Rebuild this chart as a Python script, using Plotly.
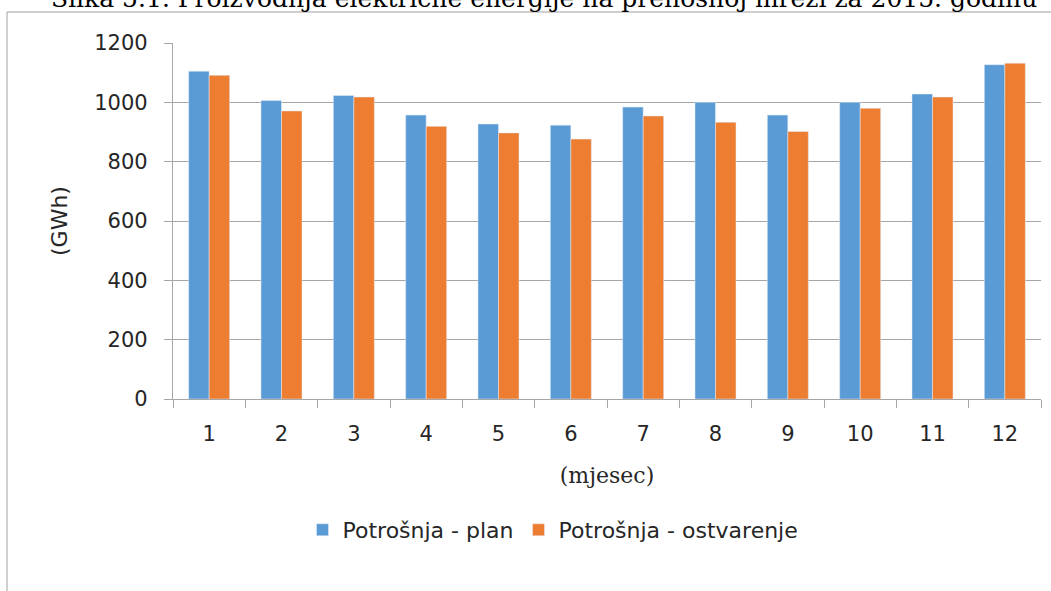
import plotly.graph_objects as go

months = ["1", "2", "3", "4", "5", "6", "7", "8", "9", "10", "11", "12"]
plan = [1105, 1006, 1023, 957, 927, 923, 984, 1000, 957, 1000, 1028, 1127]
ostvarenje = [1091, 971, 1018, 919, 897, 876, 954, 933, 902, 980, 1018, 1132]
series_names = ["Potrošnja - plan", "Potrošnja - ostvarenje"]
y_ticks = [0, 200, 400, 600, 800, 1000, 1200]
caption = "Slika 5.1. Proizvodnja električne energije na prenosnoj mreži za 2015. godinu"

W, H = 1051, 591
L, R, T, B = 173, 10, 43, 192
pw, ph = W - L - R, H - T - B

def px_x(x):
    return (x - L) / pw

def px_y(y):
    return (H - B - y) / ph

fig = go.Figure()
fig.add_trace(go.Bar(x=months, y=plan, name=series_names[0], marker_color="#5b9bd5"))
fig.add_trace(go.Bar(x=months, y=ostvarenje, name=series_names[1], marker_color="#ed7d31"))

txt = "#262626"
grid = "#a6a6a6"
fig.update_layout(
    width=W, height=H,
    margin=dict(l=L, r=R, t=T, b=B, pad=0),
    paper_bgcolor="white", plot_bgcolor="white",
    barmode="group", bargap=0.433, bargroupgap=0,
    font=dict(family="DejaVu Sans", size=21, color=txt),
    showlegend=True,
    legend=dict(orientation="h", x=px_x(553), xanchor="center", y=px_y(530), yanchor="middle",
                font=dict(family="DejaVu Sans", size=22, color=txt), itemwidth=30,
                bgcolor="rgba(0,0,0,0)"),
    xaxis=dict(type="category", showline=True, linecolor=grid, linewidth=1.3,
               ticks="outside", tickson="boundaries", ticklen=8, tickcolor=grid, tickwidth=1.3,
               showgrid=False, ticklabelstandoff=16,
               tickfont=dict(family="DejaVu Sans", size=21, color=txt),
               title=dict(text="(mjesec)", font=dict(family="DejaVu Serif", size=22, color=txt), standoff=22)),
    yaxis=dict(range=[0, 1200], tickvals=y_ticks, showline=True, linecolor=grid, linewidth=1.3,
               ticks="outside", ticklen=8, tickcolor=grid, tickwidth=1.3,
               showgrid=True, gridcolor=grid, gridwidth=1.3, zeroline=False,
               ticklabelstandoff=12,
               tickfont=dict(family="DejaVu Sans", size=21, color=txt),
               title=dict(text="(GWh)", font=dict(family="DejaVu Sans", size=22, color=txt), standoff=20)),
)

fig.add_annotation(text=caption, xref="paper", yref="paper", x=px_x(544), y=px_y(-2),
                   xanchor="center", yanchor="middle", showarrow=False,
                   font=dict(family="DejaVu Serif", size=25, color="black"))

fig.add_shape(type="line", xref="paper", yref="paper", x0=px_x(7), x1=px_x(7), y0=px_y(12), y1=px_y(600),
              line=dict(color="#a0a0a0", width=1))
fig.add_shape(type="line", xref="paper", yref="paper", x0=px_x(7), x1=px_x(1060), y0=px_y(12), y1=px_y(12),
              line=dict(color="#a0a0a0", width=1))

fig.write_html("out.html", config={"displayModeBar": False},
               post_script="document.body.style.margin='0';")
